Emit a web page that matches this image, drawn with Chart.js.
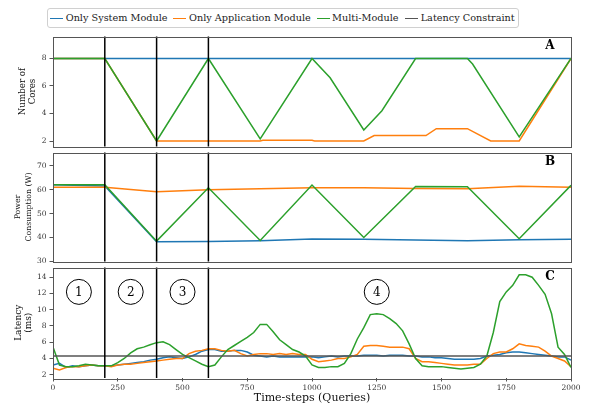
<!DOCTYPE html>
<html>
<head>
<meta charset="utf-8">
<script src="https://cdn.jsdelivr.net/npm/chart.js@4.4.1/dist/chart.umd.min.js"></script>
<style>
  html, body { margin: 0; padding: 0; background: #fff; }
  #wrap { position: relative; width: 600px; height: 405px; overflow: hidden; font-family: "DejaVu Serif", serif; }
  #wrap canvas { position: absolute; left: 0; }
  #legend { position: absolute; left: 47px; top: 8px; width: 470px; height: 18px; border: 1px solid #d0d0d0; border-radius: 3px; background: #fff; }
  .item { position: absolute; top: 0; height: 18px; line-height: 18px; font-size: 9.7px; color: #222; white-space: nowrap; }
  .swatch { position: absolute; top: 8.5px; width: 13px; height: 1.5px; }
</style>
</head>
<body>
<div id="wrap">
  <div id="legend"></div>
  <canvas id="cores" width="600" height="125" style="top:29px"></canvas>
  <canvas id="power" width="600" height="124" style="top:145px"></canvas>
  <canvas id="latency" width="600" height="145" style="top:260px"></canvas>
</div>
<script>
// series names and colours (matplotlib tab10)
const seriesNames = ['Only System Module', 'Only Application Module', 'Multi-Module', 'Latency Constraint'];
const seriesColors = ['#1f77b4', '#ff7f0e', '#2ca02c', '#555555'];

// phase boundaries and circled phase labels
const phaseBounds = [200, 400, 600];
const phaseLabels = ['1', '2', '3', '4'];
const phaseLabelX = [100, 300, 500, 1250];
const phaseLabelY = 12.2;

// panel A: number of cores
const coresSysX = [0, 2000];
const coresSys = [8, 8];
const coresAppX = [0, 200, 400, 800, 810, 1000, 1010, 1200, 1240, 1440, 1480, 1600, 1690, 1800, 2000];
const coresApp = [8, 8, 2, 2, 2.05, 2.05, 2, 2, 2.4, 2.4, 2.9, 2.9, 2, 2, 8];
const coresMultiX = [0, 200, 400, 600, 800, 1000, 1070, 1200, 1270, 1400, 1600, 1620, 1800, 2000];
const coresMulti = [8, 8, 2, 8, 2.15, 8, 6.6, 2.8, 4.2, 8, 8, 7.6, 2.3, 8];

// panel B: power consumption (W)
const powerX = [0, 200, 400, 600, 800, 1000, 1200, 1400, 1600, 1800, 2000];
const powerSys = [62, 61.5, 38.2, 38.3, 38.7, 39.4, 39.3, 39.0, 38.7, 39.1, 39.3];
const powerApp = [61, 61, 59.1, 60, 60.4, 60.8, 60.8, 60.5, 60.4, 61.4, 61];
const powerMulti = [62, 62, 38.5, 60.8, 38.8, 61.9, 40, 61.3, 61.2, 39.5, 61.8];

// panel C: latency (ms)
const latencyX = [0,25,50,75,100,125,150,175,200,225,250,275,300,325,350,375,400,425,450,475,
  500,525,550,575,600,625,650,675,700,725,750,775,800,825,850,875,900,925,950,975,
  1000,1025,1050,1075,1100,1125,1150,1175,1200,1225,1250,1275,1300,1325,1350,1375,1400,1425,1450,1475,
  1500,1525,1550,1575,1600,1625,1650,1675,1700,1725,1750,1775,1800,1825,1850,1875,1900,1925,1950,1975,2000];
const latencySys = [3.2,3.4,2.9,3.1,3.0,3.1,3.2,3.1,3.1,3.1,3.2,3.3,3.4,3.5,3.6,3.8,3.9,4.1,4.2,4.1,
  4.0,4.2,4.5,4.9,5.1,5.1,4.9,4.9,5.0,5.0,4.8,4.4,4.3,4.2,4.3,4.2,4.2,4.2,4.2,4.2,
  4.2,4.1,4.2,4.3,4.2,4.3,4.3,4.3,4.4,4.4,4.4,4.3,4.4,4.4,4.4,4.3,4.3,4.2,4.2,4.1,
  4.1,4.0,3.9,3.9,3.9,3.9,4.0,4.3,4.4,4.5,4.7,4.8,4.8,4.7,4.6,4.5,4.4,4.3,4.2,4.2,3.8];
const latencyApp = [2.8,2.6,2.9,3.0,3.0,3.1,3.2,3.1,3.1,3.0,3.2,3.3,3.3,3.4,3.5,3.6,3.7,3.8,3.9,4.0,
  4.0,4.6,4.9,5.0,5.2,5.2,5.0,4.9,5.0,4.6,4.3,4.5,4.6,4.6,4.5,4.6,4.5,4.6,4.5,4.5,
  3.9,3.6,3.7,3.8,4.0,4.0,4.2,4.5,5.5,5.6,5.6,5.5,5.4,5.4,5.4,5.2,4.0,3.6,3.6,3.5,
  3.4,3.3,3.2,3.2,3.2,3.3,3.3,4.0,4.6,4.8,4.8,5.2,5.8,5.6,5.5,5.4,4.9,4.3,4.0,3.7,3.0];
const latencyMulti = [5.4,3.2,3.0,3.0,3.1,3.3,3.2,3.1,3.1,3.1,3.5,4.0,4.7,5.2,5.4,5.7,5.95,6.05,5.7,5.1,
  4.5,4.1,3.7,3.3,3.0,3.2,4.2,5.1,5.6,6.1,6.6,7.2,8.2,8.2,7.3,6.3,5.7,5.1,4.8,4.3,
  3.2,2.9,2.9,3.0,3.0,3.4,4.6,6.4,7.8,9.4,9.5,9.4,8.9,8.3,7.4,5.8,4.0,3.1,3.0,3.0,
  3.0,2.9,2.8,2.7,2.8,2.9,3.3,4.3,7.2,11.0,12.2,13.0,14.3,14.3,14.0,13.0,11.9,9.5,5.4,4.5,2.9];
const latencyLimitX = [0, 2000];
const latencyLimit = [4.3, 4.3];

// axis ticks
const xTicks = [0, 250, 500, 750, 1000, 1250, 1500, 1750, 2000];
const coresTicks = [2, 4, 6, 8];
const powerTicks = [30, 40, 50, 60, 70];
const latencyTicks = [2, 4, 6, 8, 10, 12, 14];

const FONT = '"DejaVu Serif", serif';

function pts(xs, ys) {
  return xs.map((x, i) => ({ x: x, y: ys[i] }));
}

function ds(i, xs, ys, order) {
  return {
    label: seriesNames[i],
    data: pts(xs, ys),
    borderColor: seriesColors[i],
    backgroundColor: seriesColors[i],
    borderWidth: 1.5,
    pointRadius: 0,
    tension: 0,
    order: order
  };
}

// legend (html)
const legend = document.getElementById('legend');
const swatchLeft = [2, 125, 269, 357];
const textLeft = [17.7, 141, 284, 372.7];
seriesNames.forEach((name, i) => {
  const sw = document.createElement('div');
  sw.className = 'swatch';
  sw.style.left = swatchLeft[i] + 'px';
  sw.style.background = seriesColors[i];
  legend.appendChild(sw);
  const t = document.createElement('div');
  t.className = 'item';
  t.style.left = textLeft[i] + 'px';
  t.textContent = name;
  legend.appendChild(t);
});

const marks = {
  id: 'marks',
  afterDatasetsDraw(chart, args, o) {
    const { ctx, chartArea: a, scales: { x, y } } = chart;
    ctx.save();
    ctx.strokeStyle = '#000';
    ctx.lineWidth = 1.5;
    phaseBounds.forEach(v => {
      const px = x.getPixelForValue(v);
      ctx.beginPath();
      ctx.moveTo(px, a.top);
      ctx.lineTo(px, a.bottom);
      ctx.stroke();
    });
    if (o.circles) {
      ctx.lineWidth = 1;
      ctx.font = '12px ' + FONT;
      ctx.fillStyle = '#000';
      ctx.textAlign = 'center';
      ctx.textBaseline = 'middle';
      phaseLabels.forEach((lab, i) => {
        const cx = x.getPixelForValue(phaseLabelX[i]);
        const cy = y.getPixelForValue(phaseLabelY);
        ctx.beginPath();
        ctx.arc(cx, cy, 12.5, 0, Math.PI * 2);
        ctx.stroke();
        ctx.fillText(lab, cx, cy + 0.5);
      });
    }
    ctx.strokeStyle = '#555';
    ctx.lineWidth = 1;
    ctx.strokeRect(Math.round(a.left) + 0.5, Math.round(a.top) + 0.5, Math.round(a.right - a.left), Math.round(a.bottom - a.top));
    ctx.font = 'bold 12px ' + FONT;
    ctx.fillStyle = '#000';
    ctx.textAlign = 'center';
    ctx.textBaseline = 'middle';
    ctx.fillText(o.letter, a.right - 21, a.top + 9);
    ctx.restore();
  }
};

function panel(id, datasets, yMin, yMax, yTicks, yTitle, titleSize, titleLine, titlePad, showX, letter, circles) {
  return new Chart(document.getElementById(id), {
    type: 'line',
    data: { datasets: datasets },
    options: {
      responsive: false,
      animation: false,
      layout: { padding: { top: 6, bottom: showX ? 0 : 6, left: 0, right: 29 } },
      plugins: {
        legend: { display: false },
        tooltip: { enabled: false },
        marks: { letter: letter, circles: circles }
      },
      scales: {
        x: {
          type: 'linear',
          min: 0,
          max: 2000,
          display: showX,
          afterBuildTicks: s => { s.ticks = xTicks.map(v => ({ value: v })); },
          afterFit: s => { if (showX) s.height = 27; },
          border: { display: false },
          grid: { drawOnChartArea: false, tickLength: 3.5, color: '#555' },
          ticks: { font: { family: FONT, size: 7.5 }, color: '#333', padding: 2, maxRotation: 0, callback: v => String(v) },
          title: {
            display: true,
            text: 'Time-steps (Queries)',
            color: '#111',
            font: { family: FONT, size: 11 },
            padding: 0
          }
        },
        y: {
          min: yMin,
          max: yMax,
          afterBuildTicks: s => { s.ticks = yTicks.map(v => ({ value: v })); },
          afterFit: s => { s.width = 53; },
          border: { display: false },
          grid: { drawOnChartArea: false, tickLength: 3.5, color: '#555' },
          ticks: { font: { family: FONT, size: 7.5 }, color: '#333', padding: 3, callback: v => String(v) },
          title: {
            display: true,
            text: yTitle,
            color: '#111',
            font: { family: FONT, size: titleSize, lineHeight: titleLine },
            padding: { top: titlePad, bottom: 0 }
          }
        }
      }
    },
    plugins: [marks]
  });
}

panel('cores', [
  ds(0, coresSysX, coresSys, 3),
  ds(1, coresAppX, coresApp, 2),
  ds(2, coresMultiX, coresMulti, 1)
], 1.6, 9.6, coresTicks, ['Number of', 'Cores'], 8.7, '10px', 17.3, false, 'A', false);

panel('power', [
  ds(0, powerX, powerSys, 3),
  ds(1, powerX, powerApp, 2),
  ds(2, powerX, powerMulti, 1)
], 30, 75.5, powerTicks, ['Power', 'Consumption (W)'], 7.8, '11px', 12.8, false, 'B', false);

panel('latency', [
  ds(0, latencyX, latencySys, 4),
  ds(1, latencyX, latencyApp, 3),
  ds(2, latencyX, latencyMulti, 2),
  ds(3, latencyLimitX, latencyLimit, 1)
], 1.6, 15.2, latencyTicks, ['Latency', '(ms)'], 9, '10px', 13.3, true, 'C', true);
</script>
</body>
</html>
